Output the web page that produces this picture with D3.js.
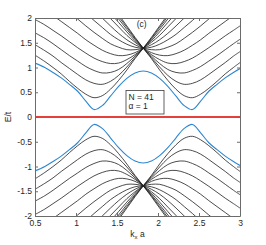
<!DOCTYPE html>
<html>
<head>
<meta charset="utf-8">
<script src="https://cdn.jsdelivr.net/npm/d3@7"></script>
<style>
  body { margin: 0; background: #fff; }
  svg { display: block; }
  text { font-family: "Liberation Sans", Arial, sans-serif; }
</style>
</head>
<body>
<svg id="chart" width="266" height="245"></svg>
<script>
const _ = null

// k_x a sample points
const kx = [0.5, 0.62, 0.72, 0.82, 0.92, 1.02, 1.12, 1.22, 1.32, 1.42, 1.52, 1.62, 1.72,
            1.82, 1.92, 2.02, 2.12, 2.22, 2.32, 2.42, 2.52, 2.62, 2.72, 2.82, 2.92, 3.0]

// E/t, upper bands (black)
const bandA  = [1.25,1.12,1.00,0.87,0.72,0.58,0.46,0.39,0.43,0.56,0.74,0.95,1.18,1.39,1.61,1.84,2.07,2.30,2.52,_,_,_,_,_,_,_]
const bandA2 = [_,_,_,_,_,_,_,_,2.52,2.30,2.07,1.84,1.61,1.39,1.18,0.95,0.74,0.56,0.43,0.39,0.46,0.58,0.72,0.87,1.00,1.10]
const bandB  = [1.46,1.34,1.23,1.10,0.98,0.86,0.75,0.68,0.66,0.72,0.84,1.01,1.20,1.39,1.59,1.81,2.03,2.25,2.47,_,_,_,_,_,_,_]
const bandB2 = [_,_,_,_,_,_,_,_,2.47,2.25,2.03,1.81,1.59,1.39,1.20,1.01,0.84,0.72,0.66,0.68,0.75,0.86,0.98,1.10,1.23,1.32]
const bandC  = [1.70,1.59,1.48,1.36,1.24,1.13,1.02,0.94,0.89,0.90,0.96,1.08,1.23,1.39,1.57,1.77,1.98,2.19,2.39,_,_,_,_,_,_,_]
const bandC2 = [_,_,_,_,_,_,_,_,2.39,2.19,1.98,1.77,1.57,1.39,1.23,1.08,0.96,0.90,0.89,0.94,1.02,1.13,1.24,1.36,1.48,1.57]
const bandD  = [1.97,1.86,1.75,1.64,1.52,1.40,1.29,1.19,1.12,1.08,1.09,1.16,1.26,1.39,1.54,1.72,1.91,2.10,2.30,_,_,_,_,_,_,_]
const bandD2 = [_,_,_,_,_,_,_,_,2.30,2.10,1.91,1.72,1.54,1.39,1.26,1.16,1.09,1.08,1.12,1.19,1.29,1.40,1.52,1.64,1.75,1.84]
const bandE  = [2.27,2.16,2.05,1.93,1.81,1.69,1.56,1.45,1.35,1.28,1.24,1.25,1.30,1.39,1.51,1.65,1.82,1.99,2.17,2.35,_,_,_,_,_,_]
const bandE2 = [_,_,_,_,_,_,_,2.35,2.17,1.99,1.82,1.65,1.51,1.39,1.30,1.25,1.24,1.28,1.35,1.45,1.56,1.69,1.81,1.93,2.05,2.14]
const bandF  = [_,_,2.36,2.24,2.11,1.98,1.84,1.71,1.59,1.48,1.41,1.36,1.36,1.39,1.46,1.56,1.69,1.84,2.00,2.16,2.33,_,_,_,_,_]
const bandF2 = [_,_,_,_,_,_,2.33,2.16,2.00,1.84,1.69,1.56,1.46,1.39,1.36,1.36,1.41,1.48,1.59,1.71,1.84,1.98,2.11,2.24,2.36,2.45]
const bandG  = [_,_,_,_,_,2.25,2.10,1.95,1.81,1.67,1.56,1.47,1.41,1.39,1.41,1.47,1.56,1.67,1.81,1.95,2.10,2.25,_,_,_,_]

// lower bands (black)
const lowA  = [-1.25,-1.12,-1.00,-0.87,-0.72,-0.58,-0.46,-0.39,-0.43,-0.56,-0.74,-0.95,-1.18,-1.39,-1.61,-1.84,-2.07,-2.30,-2.52,_,_,_,_,_,_,_]
const lowA2 = [_,_,_,_,_,_,_,_,-2.52,-2.30,-2.07,-1.84,-1.61,-1.39,-1.18,-0.95,-0.74,-0.56,-0.43,-0.39,-0.46,-0.58,-0.72,-0.87,-1.00,-1.10]
const lowB  = [-1.46,-1.34,-1.23,-1.10,-0.98,-0.86,-0.75,-0.68,-0.66,-0.72,-0.84,-1.01,-1.20,-1.39,-1.59,-1.81,-2.03,-2.25,-2.47,_,_,_,_,_,_,_]
const lowB2 = [_,_,_,_,_,_,_,_,-2.47,-2.25,-2.03,-1.81,-1.59,-1.39,-1.20,-1.01,-0.84,-0.72,-0.66,-0.68,-0.75,-0.86,-0.98,-1.10,-1.23,-1.32]
const lowC  = [-1.70,-1.59,-1.48,-1.36,-1.24,-1.13,-1.02,-0.94,-0.89,-0.90,-0.96,-1.08,-1.23,-1.39,-1.57,-1.77,-1.98,-2.19,-2.39,_,_,_,_,_,_,_]
const lowC2 = [_,_,_,_,_,_,_,_,-2.39,-2.19,-1.98,-1.77,-1.57,-1.39,-1.23,-1.08,-0.96,-0.90,-0.89,-0.94,-1.02,-1.13,-1.24,-1.36,-1.48,-1.57]
const lowD  = [-1.97,-1.86,-1.75,-1.64,-1.52,-1.40,-1.29,-1.19,-1.12,-1.08,-1.09,-1.16,-1.26,-1.39,-1.54,-1.72,-1.91,-2.10,-2.30,_,_,_,_,_,_,_]
const lowD2 = [_,_,_,_,_,_,_,_,-2.30,-2.10,-1.91,-1.72,-1.54,-1.39,-1.26,-1.16,-1.09,-1.08,-1.12,-1.19,-1.29,-1.40,-1.52,-1.64,-1.75,-1.84]
const lowE  = [-2.27,-2.16,-2.05,-1.93,-1.81,-1.69,-1.56,-1.45,-1.35,-1.28,-1.24,-1.25,-1.30,-1.39,-1.51,-1.65,-1.82,-1.99,-2.17,-2.35,_,_,_,_,_,_]
const lowE2 = [_,_,_,_,_,_,_,-2.35,-2.17,-1.99,-1.82,-1.65,-1.51,-1.39,-1.30,-1.25,-1.24,-1.28,-1.35,-1.45,-1.56,-1.69,-1.81,-1.93,-2.05,-2.14]
const lowF  = [_,_,-2.36,-2.24,-2.11,-1.98,-1.84,-1.71,-1.59,-1.48,-1.41,-1.36,-1.36,-1.39,-1.46,-1.56,-1.69,-1.84,-2.00,-2.16,-2.33,_,_,_,_,_]
const lowF2 = [_,_,_,_,_,_,-2.33,-2.16,-2.00,-1.84,-1.69,-1.56,-1.46,-1.39,-1.36,-1.36,-1.41,-1.48,-1.59,-1.71,-1.84,-1.98,-2.11,-2.24,-2.36,-2.45]
const lowG  = [_,_,_,_,_,-2.25,-2.10,-1.95,-1.81,-1.67,-1.56,-1.47,-1.41,-1.39,-1.41,-1.47,-1.56,-1.67,-1.81,-1.95,-2.10,-2.25,_,_,_,_]

// blue bands next to the gap, and the flat band
const blueUp  = [1.09,1.00,0.90,0.79,0.66,0.52,0.32,0.15,0.23,0.42,0.62,0.78,0.89,0.93,0.89,0.78,0.62,0.42,0.23,0.15,0.32,0.52,0.66,0.79,0.90,0.98]
const blueLow = [-1.09,-1.00,-0.90,-0.79,-0.66,-0.52,-0.32,-0.15,-0.23,-0.42,-0.62,-0.78,-0.89,-0.93,-0.89,-0.78,-0.62,-0.42,-0.23,-0.15,-0.32,-0.52,-0.66,-0.79,-0.90,-0.98]
const flat = [0, 0]
const flatK = [0.5, 3.0]

const xTicks = [0.5, 1, 1.5, 2, 2.5, 3]
const xTickLabels = ['0.5', '1', '1.5', '2', '2.5', '3']
const yTicks = [-2, -1.5, -1, -0.5, 0, 0.5, 1, 1.5, 2]
const yTickLabels = ['-2', '-1.5', '-1', '-0.5', '0', '0.5', '1', '1.5', '2']
const legendLines = ['N = 41', 'α = 1']

const blackBands = [bandA, bandA2, bandB, bandB2, bandC, bandC2, bandD, bandD2, bandE, bandE2, bandF, bandF2, bandG,
                    lowA, lowA2, lowB, lowB2, lowC, lowC2, lowD, lowD2, lowE, lowE2, lowF, lowF2, lowG]

const margin = {left: 35, right: 26, top: 18, bottom: 29}
const width = 266 - margin.left - margin.right
const height = 245 - margin.top - margin.bottom
const axisColor = '#6b6b6b'

const svg = d3.select('#chart')
const plot = svg.append('g').attr('transform', `translate(${margin.left},${margin.top})`)

const scaleX = d3.scaleLinear().domain([0.5, 3]).range([0, width])
const scaleY = d3.scaleLinear().domain([-2, 2]).range([height, 0])

plot.append('clipPath').attr('id', 'clip')
    .append('rect').attr('width', width).attr('height', height)

const lineGen = k => d3.line()
    .defined(d => d != null)
    .x((d, i) => scaleX(k[i]))
    .y(d => scaleY(d))
    .curve(d3.curveCatmullRom)

const lines = plot.append('g').attr('clip-path', 'url(#clip)')

lines.selectAll('path.band').data(blackBands)
    .join('path')
    .attr('class', 'band')
    .attr('fill', 'none')
    .attr('stroke', '#1e1e1e')
    .attr('stroke-width', 0.8)
    .attr('d', d => lineGen(kx)(d))

lines.selectAll('path.blue').data([blueUp, blueLow])
    .join('path')
    .attr('class', 'blue')
    .attr('fill', 'none')
    .attr('stroke', '#2c87d3')
    .attr('stroke-width', 1.1)
    .attr('d', d => lineGen(kx)(d))

lines.append('path')
    .attr('fill', 'none')
    .attr('stroke', '#e4413c')
    .attr('stroke-width', 2)
    .attr('d', lineGen(flatK)(flat))

// axes, ticks inward on all four sides
const fmtX = d => xTickLabels[xTicks.indexOf(d)]
const fmtY = d => yTickLabels[yTicks.indexOf(d)]

plot.append('g').attr('transform', `translate(0,${height})`)
    .call(d3.axisBottom(scaleX).tickValues(xTicks).tickFormat(fmtX).tickSizeInner(-3).tickSizeOuter(0).tickPadding(4))
plot.append('g')
    .call(d3.axisTop(scaleX).tickValues(xTicks).tickFormat('').tickSizeInner(-3).tickSizeOuter(0))
plot.append('g')
    .call(d3.axisLeft(scaleY).tickValues(yTicks).tickFormat(fmtY).tickSizeInner(-3).tickSizeOuter(0).tickPadding(3))
plot.append('g').attr('transform', `translate(${width},0)`)
    .call(d3.axisRight(scaleY).tickValues(yTicks).tickFormat('').tickSizeInner(-3).tickSizeOuter(0))

plot.selectAll('.domain').attr('stroke', axisColor)
plot.selectAll('.tick line').attr('stroke', axisColor)
plot.selectAll('.tick text').attr('fill', '#262626').attr('font-size', 8.5)
    .attr('font-family', '"Liberation Sans", Arial, sans-serif')

// labels
svg.append('text')
    .attr('transform', `translate(11,${margin.top + height / 2}) rotate(-90)`)
    .attr('text-anchor', 'middle')
    .attr('font-size', 8.5).attr('fill', '#262626')
    .text('E/t')

const xl = svg.append('text')
    .attr('x', margin.left + width / 2).attr('y', 237)
    .attr('text-anchor', 'middle')
    .attr('font-size', 8.5).attr('fill', '#262626')
xl.append('tspan').text('k')
xl.append('tspan').attr('font-size', 6).attr('dy', 2).text('x')
xl.append('tspan').attr('dy', -2).text(' a')

plot.append('text')
    .attr('x', scaleX(1.8)).attr('y', 9)
    .attr('text-anchor', 'middle')
    .attr('font-size', 8.5).attr('fill', '#262626')
    .text('(c)')

// legend box
const legend = svg.append('g').attr('transform', 'translate(126,90.5)')
legend.append('rect')
    .attr('width', 38).attr('height', 23.5)
    .attr('fill', '#fff').attr('stroke', '#3a3a3a').attr('stroke-width', 0.8)
legend.selectAll('text').data(legendLines)
    .join('text')
    .attr('x', 2.5).attr('y', (d, i) => 9.5 + i * 9)
    .attr('font-size', 8.5).attr('fill', '#262626')
    .text(d => d)
</script>
</body>
</html>
